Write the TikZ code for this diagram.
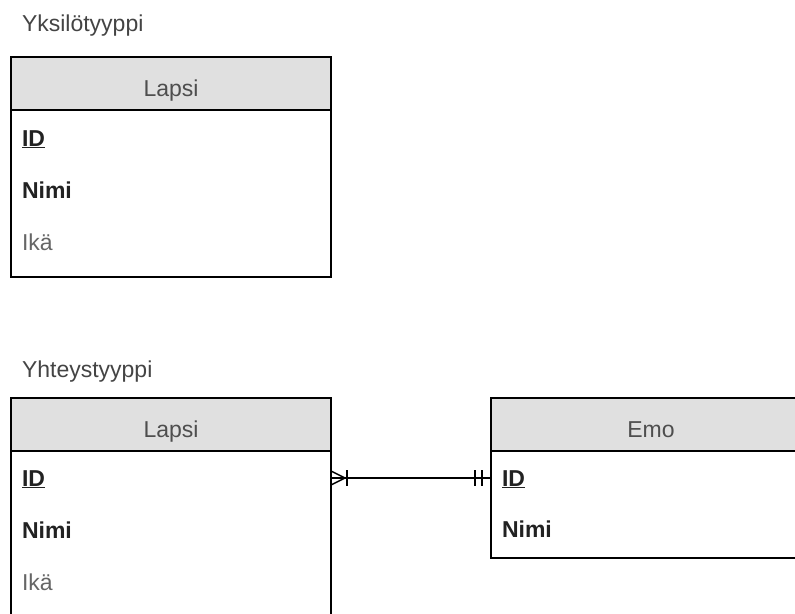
\documentclass[tikz,border=0pt]{standalone}
\usepackage{fontspec}
\setmainfont{Liberation Sans}
\definecolor{hdrfill}{HTML}{E0E0E0}
\definecolor{titlegray}{HTML}{444444}
\definecolor{txtdark}{HTML}{222222}
\definecolor{txtlight}{HTML}{666666}
\begin{document}
\begin{tikzpicture}[x=1pt,y=-1pt,
  every node/.style={inner sep=0pt, outer sep=0pt, font=\fontsize{23}{27}\selectfont},
  entbox/.style={draw=black, line width=1.5pt, fill=white, minimum width=320pt, anchor=north west},
  hdrbox/.style={draw=black, line width=1.5pt, fill=hdrfill, minimum width=320pt, minimum height=53pt, anchor=north west},
  title/.style={text=titlegray, anchor=base west},
  hdrtext/.style={text=txtdark!80, anchor=base},
  keyattr/.style={text=txtdark, anchor=base west, font=\fontsize{23}{27}\selectfont\bfseries},
  plainattr/.style={text=txtlight, anchor=base west},
  rel/.style={draw=black, line width=1.5pt}
]
\useasboundingbox (0,0) rectangle (795,613);
\clip (0,0) rectangle (795,613);
\fill[white] (0,0) rectangle (795,613);

% --- Yksilotyyppi
\node[title] (t1) at (22,31) {Yksilötyyppi};
\node[entbox, minimum height=220pt] (box1) at (11,57) {};
\node[hdrbox] (h1) at (11,57) {};
\node[hdrtext] (h1t) at (171,96) {Lapsi};
\node[keyattr] (a1id) at (22,146) {\underline{ID}};
\node[keyattr] (a1nimi) at (22,198) {Nimi};
\node[plainattr] (a1ika) at (22,250) {Ikä};

% --- Yhteystyyppi
\node[title] (t2) at (22,377) {Yhteystyyppi};
\node[entbox, minimum height=230pt] (box2) at (11,398) {};
\node[hdrbox] (h2) at (11,398) {};
\node[hdrtext] (h2t) at (171,437) {Lapsi};
\node[keyattr] (a2id) at (22,486) {\underline{ID}};
\node[keyattr] (a2nimi) at (22,538) {Nimi};
\node[plainattr] (a2ika) at (22,590) {Ikä};

\node[entbox, minimum height=160pt] (box3) at (491,398) {};
\node[hdrbox] (h3) at (491,398) {};
\node[hdrtext] (h3t) at (651,437) {Emo};
\node[keyattr] (a3id) at (502,486) {\underline{ID}};
\node[keyattr] (a3nimi) at (502,537) {Nimi};

% relationship
\coordinate (c1) at (box2.north east |- 0,478);
\coordinate (c2) at (box3.north west |- 0,478);
\draw[rel] (c1) -- (c2);
% crow's foot (one or many) at Lapsi
\draw[rel] (c1) ++(0,-7) -- ++(14,7) -- ++(-14,7);
\draw[rel] (c1) ++(16,-8) -- ++(0,16);
% one and only one at Emo
\draw[rel] (c2) ++(-16,-8) -- ++(0,16);
\draw[rel] (c2) ++(-9,-8) -- ++(0,16);
\end{tikzpicture}
\end{document}
